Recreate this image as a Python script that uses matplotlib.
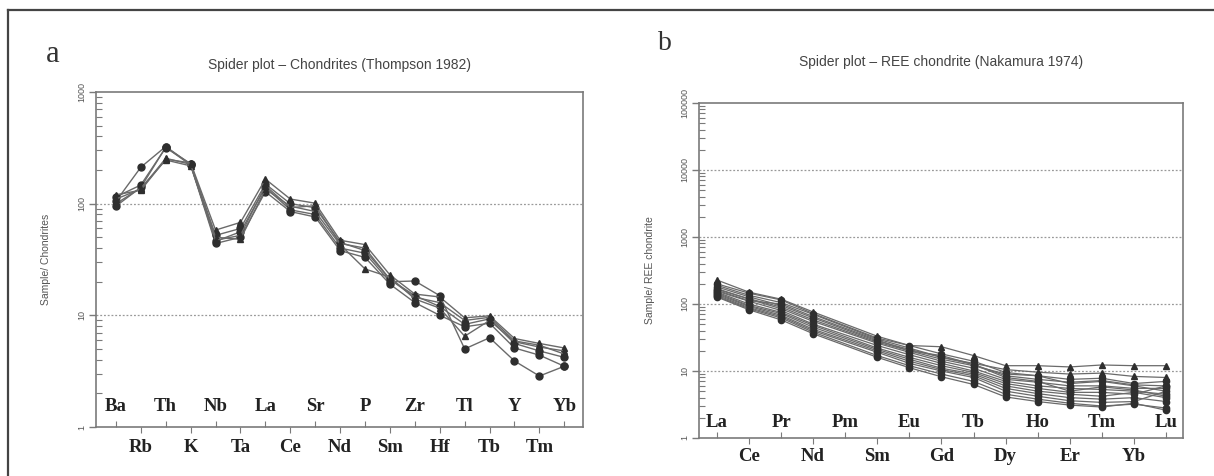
import numpy as np
import matplotlib
matplotlib.use('Agg')
import matplotlib.pyplot as plt
from matplotlib.ticker import FixedLocator, LogLocator, NullFormatter
from matplotlib.lines import Line2D
import matplotlib.transforms as mtransforms

# ---- panel a: spider plot, Thompson 1982 chondrite ----
elems_a = ['Ba', 'Rb', 'Th', 'K', 'Nb', 'Ta', 'La', 'Ce', 'Sr', 'Nd',
           'P', 'Sm', 'Zr', 'Hf', 'Tl', 'Tb', 'Y', 'Tm', 'Yb']
a_s1 = [105, 212, 325, 225, 46, 56, 140, 88, 80, 40, 36, 20, 20.3, 15, 5.0, 6.3, 3.9, 2.86, 3.5]
a_s2 = [95, 140, 320, 222, 44, 50, 128, 85, 76, 38, 33, 19, 13, 10, 7.9, 8.5, 5.1, 4.4, 3.5]
a_s3 = [115, 147, 318, 228, 52, 60, 150, 100, 92, 45, 38, 21, 15, 12, 8.3, 9.3, 5.6, 4.8, 4.2]
a_t1 = [120, 132, 250, 232, 58, 68, 166, 110, 101, 47, 43, 23, 15.5, 14.6, 9.5, 9.9, 6.2, 5.6, 5.1]
a_t2 = [100, 138, 246, 218, 50, 48, 135, 95, 85, 43, 26, 22, 14, 11.6, 6.5, 9.0, 5.8, 5.2, 4.8]
a_t3 = [110, 135, 255, 225, 47, 52, 145, 92, 96, 44, 40, 21, 14.5, 13, 9.0, 9.6, 5.9, 5.4, 4.5]
series_a = [(a_s1, 'o'), (a_s2, 'o'), (a_s3, 'o'), (a_t1, '^'), (a_t2, '^'), (a_t3, '^')]

# ---- panel b: REE chondrite, Nakamura 1974 (Pm not analysed) ----
elems_b = ['La', 'Ce', 'Pr', 'Nd', 'Pm', 'Sm', 'Eu', 'Gd', 'Tb', 'Dy',
           'Ho', 'Er', 'Tm', 'Yb', 'Lu']
b_t1 = [228, 150, 118, 76, 33, 24, 23, 17, 12, 12, 11.5, 12.3, 12, 12]
b_t2 = [190, 135, 105, 70, 30, 22, 16, 13, 10.5, 9.6, 9.0, 9.3, 8.3, 8.0]
b_t3 = [165, 120, 90, 58, 27, 20, 15, 12, 9.0, 8.5, 6.5, 7.0, 6.0, 5.0]
b_c1 = [200, 145, 115, 72, 31, 24, 18, 14, 9.5, 8.5, 7.5, 7.8, 6.5, 7.0]
b_c2 = [180, 128, 95, 62, 28, 21, 16, 12.5, 8.5, 7.5, 6.8, 7.2, 6.2, 6.0]
b_c3 = [170, 118, 85, 55, 26, 19, 14, 11, 7.5, 6.8, 6.0, 6.0, 5.5, 5.5]
b_c4 = [155, 110, 80, 50, 24, 17.5, 13, 10, 7.0, 6.0, 5.5, 5.3, 5.0, 4.5]
b_c5 = [150, 100, 75, 48, 22, 16, 12, 9.5, 6.5, 5.5, 4.8, 4.8, 4.5, 6.0]
b_c6 = [145, 95, 72, 45, 21, 15, 11, 9.0, 6.0, 5.0, 4.5, 4.2, 4.8, 4.0]
b_c7 = [140, 92, 68, 42, 20, 14, 10.5, 8.5, 5.5, 4.6, 4.0, 3.8, 4.0, 3.5]
b_c8 = [135, 88, 65, 40, 19, 13, 10, 8.0, 5.0, 4.2, 3.6, 3.4, 3.5, 5.0]
b_c9 = [130, 85, 62, 38, 17, 12, 9, 7.0, 4.5, 3.8, 3.3, 3.0, 3.2, 2.8]
b_c10 = [127, 82, 58, 36, 16, 11.2, 8.2, 6.3, 4.1, 3.5, 3.1, 2.9, 3.3, 2.6]
b_c11 = [160, 112, 100, 65, 29, 20, 17, 12.5, 8.0, 7.0, 5.0, 5.8, 5.2, 4.2]
series_b = [(b_t1, '^'), (b_t2, '^'), (b_t3, '^'), (b_c1, 'o'), (b_c2, 'o'),
            (b_c3, 'o'), (b_c4, 'o'), (b_c5, 'o'), (b_c6, 'o'), (b_c7, 'o'),
            (b_c8, 'o'), (b_c9, 'o'), (b_c10, 'o'), (b_c11, 'o')]

line_c = '#6a6a6a'
mark_c = '#2e2e2e'
spine_c = '#7a7a7a'
serif = ['Liberation Serif', 'DejaVu Serif']
sans = ['Liberation Sans', 'DejaVu Sans']

fig = plt.figure(figsize=(12.14, 4.76), dpi=100)
fig.patch.set_facecolor('white')

# outer frame (left and top edges visible)
fig.add_artist(Line2D([8 / 1214, 8 / 1214], [0, 1 - 10 / 476], transform=fig.transFigure,
                      color='#444444', lw=1.6))
fig.add_artist(Line2D([8 / 1214, 1], [1 - 10 / 476, 1 - 10 / 476], transform=fig.transFigure,
                      color='#444444', lw=1.6))

ax_a = fig.add_axes([96 / 1214, 1 - 427 / 476, 487 / 1214, 335 / 476])
ax_b = fig.add_axes([699 / 1214, 1 - 438 / 476, 484 / 1214, 335 / 476])


def style_axis(ax, elems, ylim, xlim, ylabel, title, title_y, lab_in, lab_out, ylab_x):
    ax.set_yscale('log')
    ax.set_ylim(*ylim)
    ax.set_xlim(*xlim)
    for s in ax.spines.values():
        s.set_color(spine_c)
        s.set_linewidth(1.2)
    decades = [10 ** k for k in range(int(np.log10(ylim[0])), int(np.log10(ylim[1])) + 1)]
    ax.yaxis.set_major_locator(FixedLocator(decades))
    ax.set_yticklabels([str(d) for d in decades], rotation=90, va='center',
                       fontsize=6.5, color='#555555', family=sans)
    ax.yaxis.set_minor_locator(LogLocator(base=10, subs=np.arange(2, 10)))
    ax.yaxis.set_minor_formatter(NullFormatter())
    ax.tick_params(axis='y', which='major', direction='out', length=5, width=1,
                   color=spine_c, pad=2)
    ax.tick_params(axis='y', which='minor', direction='in', length=4, width=0.8,
                   color=spine_c)
    idx = np.arange(len(elems))
    ax.xaxis.set_major_locator(FixedLocator(idx[::2]))
    ax.xaxis.set_minor_locator(FixedLocator(idx[1::2]))
    ax.xaxis.set_major_formatter(NullFormatter())
    ax.tick_params(axis='x', which='major', direction='in', length=4, width=0.8, color=spine_c)
    ax.tick_params(axis='x', which='minor', direction='out', length=4, width=0.8, color=spine_c)
    for d in decades[1:-1]:
        ax.axhline(d, color='#999999', lw=0.9, ls=(0, (1.5, 1.5)), zorder=1)
    trans = mtransforms.blended_transform_factory(ax.transData, ax.transAxes)
    for i, e in enumerate(elems):
        yy = lab_in if i % 2 == 0 else lab_out
        ax.text(i, yy, e, transform=trans, ha='center', va='center', fontsize=13.5,
                fontweight='bold', family=serif, color='#222222', clip_on=False)
    ax.set_ylabel(ylabel, fontsize=7.5, color='#555555', family=sans)
    ax.yaxis.set_label_coords(ylab_x, 0.5)
    ax.text(0.5, title_y, title, transform=ax.transAxes, ha='center', va='center',
            fontsize=10, color='#444444', family=sans)


style_axis(ax_a, elems_a, (1, 1000), (-0.8, 18.75), 'Sample/ Chondrites',
           'Spider plot \u2013 Chondrites (Thompson 1982)', 1.08, 0.06, -0.06, -0.092)
style_axis(ax_b, elems_b, (1, 100000), (-0.56, 14.53), 'Sample/ REE chondrite',
           'Spider plot \u2013 REE chondrite (Nakamura 1974)', 1.122, 0.045, -0.054, -0.09)

x_a = np.arange(len(elems_a))
for vals, m in series_a:
    ax_a.plot(x_a, vals, color=line_c, lw=1.0, marker=m, ms=5, mfc=mark_c, mec=mark_c,
              zorder=3)

# Pm has no data: lines go straight from Nd to Sm
x_b = np.array([i for i, e in enumerate(elems_b) if e != 'Pm'])
for vals, m in series_b:
    ax_b.plot(x_b, vals, color=line_c, lw=0.9, marker=m, ms=4.5, mfc=mark_c, mec=mark_c,
              zorder=3)

fig.text(53 / 1214, 1 - 55 / 476, 'a', fontsize=22, family=serif, color='#333333',
         ha='center', va='center')
fig.text(665 / 1214, 1 - 43 / 476, 'b', fontsize=20, family=serif, color='#333333',
         ha='center', va='center')

fig.savefig('out.png', dpi=100, facecolor='white')
